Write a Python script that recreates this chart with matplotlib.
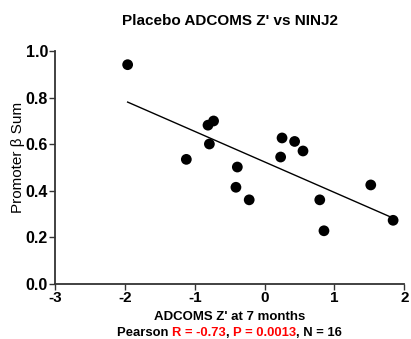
import numpy as np
import matplotlib
matplotlib.use('Agg')
import matplotlib.pyplot as plt
from matplotlib.offsetbox import TextArea, HPacker, AnnotationBbox

plt.rcParams['font.family'] = ['Liberation Sans', 'DejaVu Sans']
plt.rcParams['axes.unicode_minus'] = False

# ADCOMS Z' at 7 months vs promoter beta sum
adcoms = [-1.96, -0.81, -0.73, -0.79, -1.12, -0.39, -0.41, -0.22,
          0.25, 0.43, 0.55, 0.23, 1.52, 0.79, 0.85, 1.84]
beta_sum = [0.942, 0.682, 0.700, 0.601, 0.535, 0.502, 0.415, 0.361,
            0.627, 0.612, 0.571, 0.545, 0.425, 0.361, 0.228, 0.273]
xticks = [-3, -2, -1, 0, 1, 2]
yticks = [0.0, 0.2, 0.4, 0.6, 0.8, 1.0]

x = np.array(adcoms)
y = np.array(beta_sum)
slope, icpt = np.polyfit(x, y, 1)
xf = np.array([x.min(), x.max()])

fig = plt.figure(figsize=(4.11, 3.39), dpi=100)
ax = fig.add_axes([0.1338, 0.1628, 0.8499, 0.6862])

ax.plot(xf, slope * xf + icpt, color='black', lw=1.0)
ax.scatter(x, y, s=60, color='black', zorder=3, edgecolors='none')

ax.set_xlim(-3, 2)
ax.set_ylim(0, 1)
ax.set_xticks(xticks)
ax.set_yticks(yticks)
ax.set_yticklabels([f'{v:.1f}' for v in yticks])
for s in ['top', 'right']:
    ax.spines[s].set_visible(False)
for s in ['left', 'bottom']:
    ax.spines[s].set_color('#333333')
    ax.spines[s].set_linewidth(1.3)
ax.tick_params(axis='both', direction='out', length=4, width=1.0, color='#333333', pad=1)
for lab in ax.get_yticklabels():
    lab.set_fontsize(11.5)
    lab.set_fontweight('bold')
for lab in ax.get_xticklabels():
    lab.set_fontsize(11)
    lab.set_fontweight('bold')

fig.text(0.559, 0.937, "Placebo ADCOMS Z' vs NINJ2", ha='center', va='center',
         fontsize=11, fontweight='bold')
fig.text(0.043, 1 - 157 / 339, 'Promoter β Sum', rotation=90, ha='center', va='center',
         fontsize=11)
fig.text(0.559, 1 - 317.5 / 339, "ADCOMS Z' at 7 months", ha='center', va='center',
         fontsize=9.5, fontweight='bold')

parts = [('Pearson ', 'black'), ('R = -0.73', 'red'), (', ', 'black'),
         ('P = 0.0013', 'red'), (', N = 16', 'black')]
areas = [TextArea(t, textprops=dict(color=c, fontsize=9.4, fontweight='bold'))
         for t, c in parts]
box = HPacker(children=areas, align='baseline', pad=0, sep=0)
ab = AnnotationBbox(box, (0.559, 1 - 332.5 / 339), xycoords='figure fraction',
                    frameon=False, box_alignment=(0.5, 0.5), pad=0)
fig.add_artist(ab)

fig.savefig('out.png', dpi=100)
